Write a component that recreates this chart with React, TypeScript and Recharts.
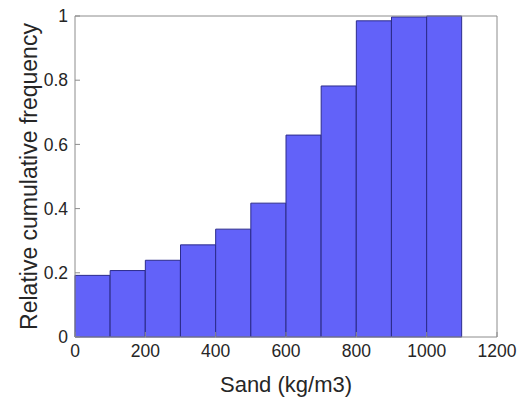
import { ComposedChart, Bar, XAxis, YAxis, Label } from 'recharts'

// histogram bins (kg/m3), 100 wide each
const binStarts = [0, 100, 200, 300, 400, 500, 600, 700, 800, 900, 1000, 1100]
const cumFreq = [0.192, 0.207, 0.239, 0.287, 0.336, 0.417, 0.629, 0.782, 0.985, 0.997, 1.0, null]
const xTicks = [0, 200, 400, 600, 800, 1000, 1200]
const yTicks = [0, 0.2, 0.4, 0.6, 0.8, 1]

const data = binStarts.map((s, i) => ({ bin: String(s), start: s, value: cumFreq[i] }))

const axisColor = '#8c8c8c'
const font = 'Arial, "Liberation Sans", sans-serif'
const tickText = { fill: '#262626', fontSize: 17.5, fontFamily: font }

export default function App() {
  return (
    <div style={{ position: 'absolute', left: 0, top: 0, background: '#fff' }}>
      <ComposedChart
        width={525}
        height={400}
        data={data}
        margin={{ top: 0, right: 0, bottom: 0, left: 0 }}
        barCategoryGap={0}
        barGap={0}
      >
        {/* visible numeric axis */}
        <XAxis
          xAxisId="num"
          dataKey="start"
          type="number"
          domain={[0, 1200]}
          allowDataOverflow
          ticks={xTicks}
          height={63}
          stroke={axisColor}
          tickSize={-5}
          tickMargin={13}
          tick={tickText}
          interval={0}
        >
          <Label
            value="Sand (kg/m3)"
            position="insideBottom"
            offset={8}
            style={{ fill: '#262626', fontSize: 22, fontFamily: font }}
          />
        </XAxis>
        {/* band axis that places the bars */}
        <XAxis xAxisId="bins" dataKey="bin" hide height={0} />
        <XAxis
          xAxisId="top"
          orientation="top"
          type="number"
          dataKey="start"
          domain={[0, 1200]}
          allowDataOverflow
          ticks={xTicks}
          height={16}
          stroke={axisColor}
          tickSize={-5}
          tick={false}
        />
        <YAxis
          yAxisId="left"
          type="number"
          domain={[0, 1]}
          ticks={yTicks}
          width={75}
          stroke={axisColor}
          tickSize={-5}
          tickMargin={12}
          tick={tickText}
          interval={0}
        >
          <Label
            value="Relative cumulative frequency"
            angle={-90}
            position="insideLeft"
            offset={29}
            style={{ textAnchor: 'middle', fill: '#262626', fontSize: 23, fontFamily: font }}
          />
        </YAxis>
        <YAxis
          yAxisId="right"
          orientation="right"
          type="number"
          domain={[0, 1]}
          ticks={yTicks}
          width={28}
          stroke={axisColor}
          tickSize={-5}
          tick={false}
        />
        <Bar
          xAxisId="bins"
          yAxisId="left"
          dataKey="value"
          fill="#6262f9"
          stroke="#2c2c8c"
          strokeWidth={1}
          isAnimationActive={false}
        />
      </ComposedChart>
    </div>
  )
}
